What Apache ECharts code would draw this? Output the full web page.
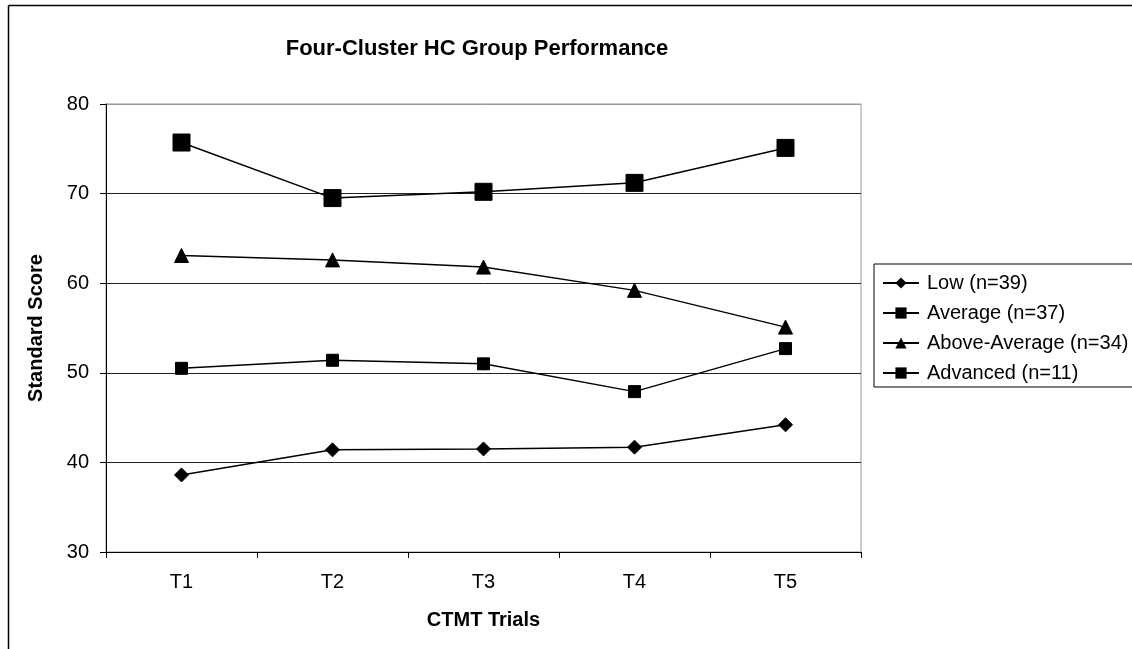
<!DOCTYPE html>
<html>
<head>
<meta charset="utf-8">
<script src="https://cdn.jsdelivr.net/npm/echarts@6/dist/echarts.min.js"></script>
<style>
html,body{margin:0;padding:0;background:#fff;}
#chart{width:1132px;height:649px;}
</style>
</head>
<body>
<div id="chart"></div>
<script>
const categories = ['T1', 'T2', 'T3', 'T4', 'T5'];
const lowValues = [38.6, 41.4, 41.5, 41.7, 44.2];
const averageValues = [50.5, 51.4, 51.0, 47.9, 52.7];
const aboveAverageValues = [63.1, 62.6, 61.8, 59.2, 55.1];
const advancedValues = [75.7, 69.5, 70.2, 71.2, 75.1];
const seriesNames = ['Low (n=39)', 'Average (n=37)', 'Above-Average (n=34)', 'Advanced (n=11)'];
const yTicks = [30, 40, 50, 60, 70, 80];

const font = 'Liberation Sans, Arial, sans-serif';
const chart = echarts.init(document.getElementById('chart'), null, {renderer: 'canvas'});

function mk(name, data, symbol, size) {
  return {
    name: name,
    type: 'line',
    data: data,
    symbol: symbol,
    symbolSize: size,
    lineStyle: {color: '#000', width: 1.5},
    itemStyle: {color: '#000', borderColor: '#000'},
    emphasis: {disabled: true},
    animation: false
  };
}

chart.setOption({
  backgroundColor: '#fff',
  animation: false,
  title: {
    text: 'Four-Cluster HC Group Performance',
    left: 472, top: 33, textAlign: 'center',
    textStyle: {fontFamily: font, fontSize: 22, fontWeight: 'bold', color: '#000'}
  },
  grid: {left: 106, right: 271, top: 104, bottom: 97, show: true, borderColor: '#999', borderWidth: 1, containLabel: false},
  legend: {
    orient: 'vertical',
    left: 874, top: 264,
    data: seriesNames,
    borderColor: '#000', borderWidth: 1,
    padding: [9, 12, 4, 8],
    itemWidth: 36, itemHeight: 14, itemGap: 10,
    textStyle: {fontFamily: font, fontSize: 20, color: '#000', padding: [0, 0, 0, 3]}
  },
  xAxis: {
    type: 'category',
    data: categories,
    boundaryGap: true,
    name: 'CTMT Trials',
    nameLocation: 'middle',
    nameGap: 58,
    nameTextStyle: {fontFamily: font, fontSize: 20, fontWeight: 'bold', color: '#000'},
    axisLine: {lineStyle: {color: '#000', width: 1}},
    axisTick: {show: true, inside: false, length: 6, alignWithLabel: false, lineStyle: {color: '#000'}},
    axisLabel: {fontFamily: font, fontSize: 20, color: '#000', margin: 20},
    splitLine: {show: false}
  },
  yAxis: {
    type: 'value',
    min: 30, max: 80, interval: 10,
    name: 'Standard Score',
    nameLocation: 'middle',
    nameGap: 60,
    nameTextStyle: {fontFamily: font, fontSize: 20, fontWeight: 'bold', color: '#000'},
    axisLine: {show: true, lineStyle: {color: '#000', width: 1}},
    axisTick: {show: true, length: 6, lineStyle: {color: '#000'}},
    axisLabel: {fontFamily: font, fontSize: 20, color: '#000', margin: 17,
      formatter: function (v) { return yTicks.indexOf(v) >= 0 ? String(v) : ''; }},
    splitLine: {show: true, lineStyle: {color: ['#000', '#222', '#222', '#222', '#222', '#999'], width: 1}}
  },
  graphic: [
    {type: 'line', shape: {x1: 8.5, y1: 5.5, x2: 1132, y2: 5.5}, style: {stroke: '#000', lineWidth: 1.5}, silent: true},
    {type: 'line', shape: {x1: 8.5, y1: 5.5, x2: 8.5, y2: 649}, style: {stroke: '#000', lineWidth: 1.5}, silent: true}
  ],
  series: [
    mk(seriesNames[0], lowValues, 'diamond', 14),
    mk(seriesNames[1], averageValues, 'rect', 12),
    mk(seriesNames[2], aboveAverageValues, 'triangle', 14),
    mk(seriesNames[3], advancedValues, 'rect', 17)
  ]
});
</script>
</body>
</html>
